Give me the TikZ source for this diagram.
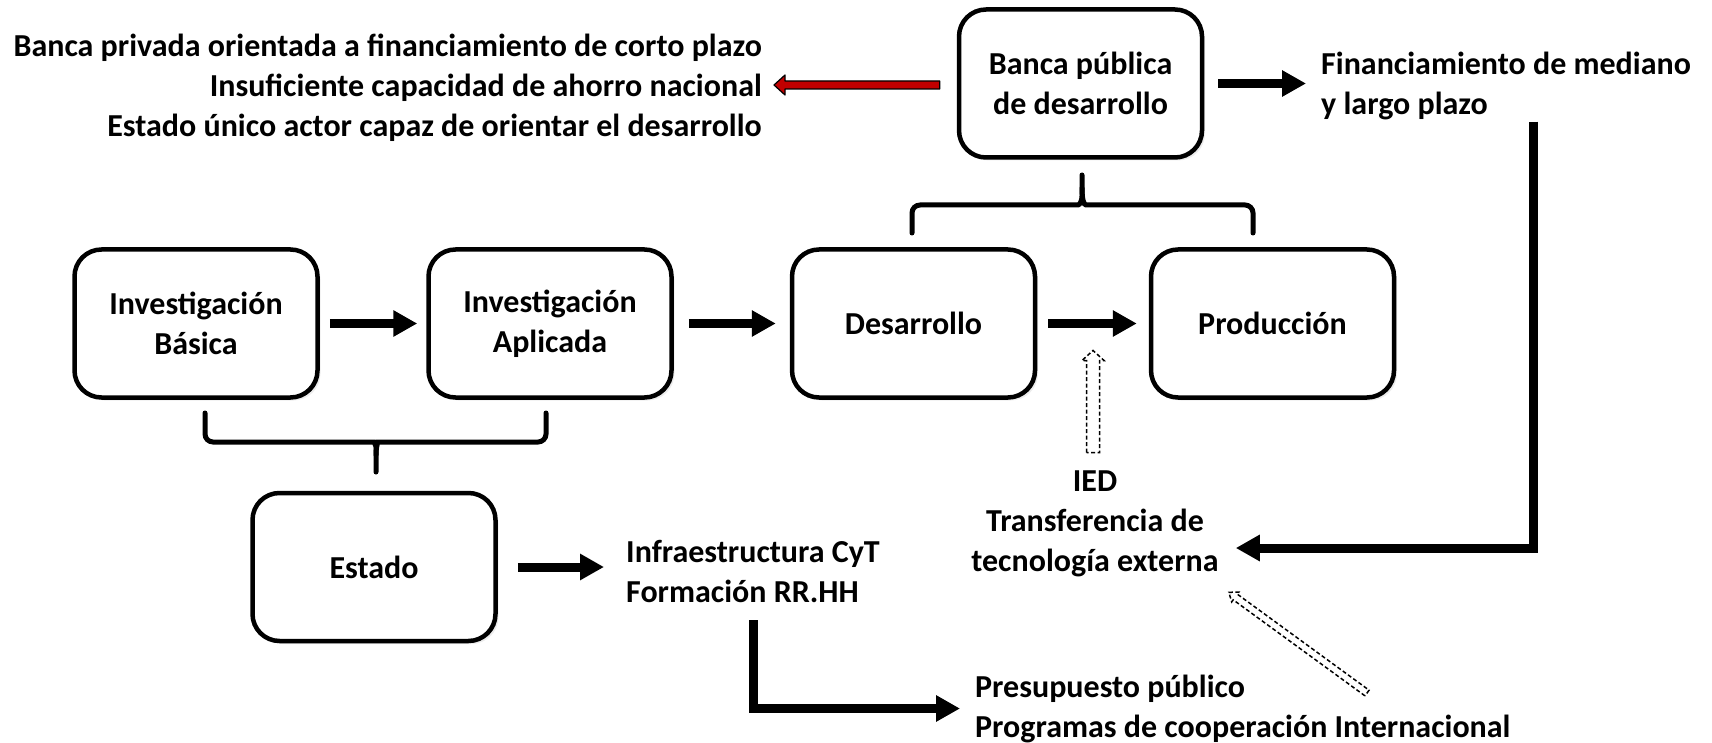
\documentclass[tikz,border=0pt]{standalone}
\usepackage{fontspec}
\setmainfont{Carlito}
\usepackage{tikz}
\usetikzlibrary{positioning, calc, arrows.meta, shadows}
\definecolor{bankred}{HTML}{C00000}

% block arrow drawn as outline: [style]{tail}{tip}{half shaft}{half head}{head length}
\newcommand{\blockarrow}[6][]{%
  \coordinate (ba-t) at (#2);
  \coordinate (ba-h) at (#3);
  \coordinate (ba-n) at ($(ba-h)!#6!(ba-t)$);
  \draw[#1] ($(ba-t)!#4!90:(ba-h)$) -- ($(ba-n)!#4!90:(ba-h)$) -- ($(ba-n)!#5!90:(ba-h)$)
    -- (ba-h) -- ($(ba-n)!#5!-90:(ba-h)$) -- ($(ba-n)!#4!-90:(ba-h)$) -- ($(ba-t)!#4!-90:(ba-h)$) -- cycle;
}

\begin{document}
\begin{tikzpicture}[x=1pt, y=-1pt,
    every node/.style={font=\fontsize{32}{40}\selectfont\bfseries},
    box/.style={draw, line width=4.5pt, rounded corners=27pt, fill=white,
        minimum width=243pt, minimum height=148pt, align=center,
        drop shadow={shadow xshift=3pt, shadow yshift=-3pt, opacity=.15}},
    txt/.style={inner sep=2pt},
    blk/.style={line width=9pt, -{Triangle[length=24pt, width=25pt]}},
    hollow/.style={draw=black, fill=white, line width=1.5pt, dash pattern=on 4pt off 2.5pt},
    redarrow/.style={draw=black, fill=bankred, line width=1.2pt, line join=round},
    brace/.style={line width=5pt, rounded corners=8pt, line cap=round}]
  \useasboundingbox (0,0) rectangle (1712,743);

  % boxes
  \node[box] (banca) at (1080.5,83.5) {Banca pública\\de desarrollo};
  \node[box] (basica) at (196,323.5) {Investigación\\Básica};
  \node[box] (aplicada) at (550,323.5) {Investigación\\Aplicada};
  \node[box] (desarrollo) at (913.5,323.5) {Desarrollo};
  \node[box] (produccion) at (1272.5,323.5) {Producción};
  \node[box] (estado) at (374,567) {Estado};

  % texts
  \node[txt, anchor=east, align=right] (privada) at (764,88)
    {Banca privada orientada a financiamiento de corto plazo\\Insuficiente capacidad de ahorro nacional\\Estado único actor capaz de orientar el desarrollo};
  \node[txt, anchor=west, align=left] (fin) at (1319,85.5) {Financiamiento de mediano\\y largo plazo};
  \node[txt, align=center] (ied) at (1095,524) {IED\\Transferencia de\\tecnología externa};
  \node[txt, anchor=west, align=left] (infra) at (624,571) {Infraestructura CyT\\Formación RR.HH};
  \node[txt, anchor=west, align=left] (presup) at (973,708.5) {Presupuesto público\\Programas de cooperación Internacional};

  % arrows
  \draw[blk, shorten <=10pt, shorten >=9pt] (basica) -- (aplicada);
  \draw[blk, shorten <=15pt, shorten >=14pt] (aplicada) -- (desarrollo);
  \draw[blk, shorten <=11pt, shorten >=12pt] (desarrollo) -- (produccion);
  \draw[blk, shorten <=14pt, shorten >=13pt] (banca.east) -- (banca.east -| fin.west);
  \draw[blk, shorten <=20pt, shorten >=20pt] (estado.east) -- (estado.east -| infra.west);
  \draw[blk, shorten <=16pt, shorten >=13pt] (infra.south) |- (presup.west);
  \draw[blk, shorten >=15pt] ($(fin.south)+(27,0)$) |- ($(ied.east)+(0,24)$);

  \blockarrow[redarrow]{$(banca.west)+(-17,1.5)$}{$(privada.east)+(10,-3)$}{4pt}{10pt}{11pt}
  \blockarrow[hollow]{$(ied.north)+(-2,-16)$}{$(desarrollo.east)!.5!(produccion.west)+(0,27)$}{6.5pt}{11pt}{10pt}
  \coordinate (coop) at (1367,693);
  \blockarrow[hollow]{coop}{$(ied.south east)+(8,13)$}{3.5pt}{6pt}{8pt}

  % braces
  \draw[brace] (912,233) -- (912,205) -- (1070,205) .. controls (1080,205) and (1082,200) .. (1082,188) -- (1082,175);
  \draw[brace] (1082,188) .. controls (1082,200) and (1084,205) .. (1094,205) -- (1253,205) -- (1253,233);
  \draw[brace] (205,413) -- (205,442) -- (366,442) .. controls (374,442) and (376,446) .. (376,455) -- (376,472);
  \draw[brace] (376,455) .. controls (376,446) and (378,442) .. (386,442) -- (546,442) -- (546,413);
\end{tikzpicture}
\end{document}
